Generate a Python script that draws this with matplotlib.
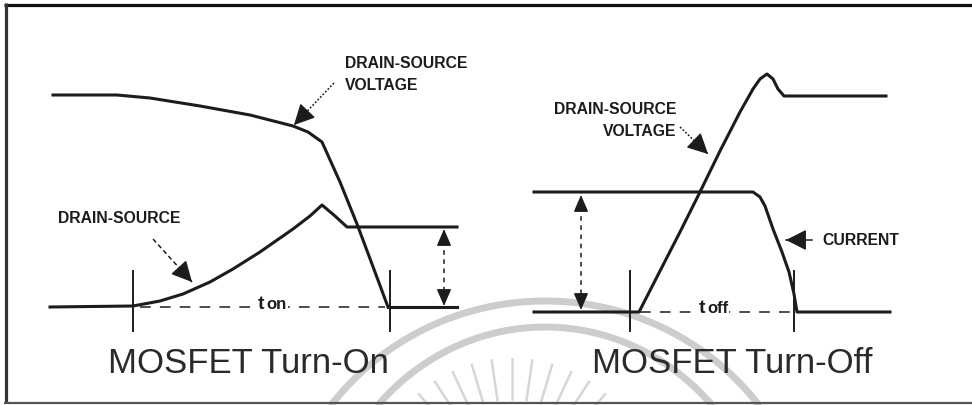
import numpy as np
import matplotlib
matplotlib.use("Agg")
import matplotlib.pyplot as plt

# ---------------- data (pixel space of the reference diagram) ----------------
# Turn-On panel
on_voltage_x = [53, 117, 150, 200, 250, 293, 308, 322, 340, 357, 372, 388]
on_voltage_y = [96, 96, 99, 107, 116, 127, 133, 143, 183, 225, 265, 308]
on_current_x = [50, 133, 160, 183, 210, 233, 260, 293, 310, 322, 335, 347, 457]
on_current_y = [308, 307, 302, 295, 283, 270, 253, 230, 217, 206, 217, 228, 228]
on_base_x = [388, 457]
on_base_y = [308, 308]
on_ticks_x = [133, 390]

# Turn-Off panel
off_voltage_x = [534, 639, 660, 680, 699, 720, 740, 753, 760, 767, 773, 778, 784, 886]
off_voltage_y = [313, 313, 272, 233, 195, 152, 113, 90, 80, 75, 80, 90, 97, 97]
off_current_x = [534, 753, 760, 765, 773, 782, 789, 794, 797, 890]
off_current_y = [193, 193, 198, 207, 230, 253, 273, 295, 313, 313]
off_ticks_x = [630, 794]

titles = ["MOSFET Turn-On", "MOSFET Turn-Off"]

INK = "#1c1c1c"
WM = "#cdcdcd"

fig = plt.figure(figsize=(9.72, 4.06), dpi=100)
ax = fig.add_axes([0, 0, 1, 1])
ax.set_xlim(0, 972)
ax.set_ylim(406, 0)
ax.axis("off")

# ---------------- watermark (faint arcs & rays) ----------------
t = np.linspace(0, np.pi, 400)
for top, half, cx in [(302, 213, 545), (328, 166, 545)]:
    d = 161.0
    ry = 405 - top + d
    rx = half / np.sqrt(1 - (d / ry) ** 2)
    xs = cx + rx * np.cos(t)
    ys = (405 + d) - ry * np.sin(t)
    ax.plot(xs, ys, color=WM, lw=5.0, solid_capstyle="butt", zorder=0)
ang = np.deg2rad(np.linspace(40, 140, 13))
rc = (512, 500)
for a in ang:
    x0, y0 = rc[0] + 100 * np.cos(a), rc[1] - 100 * np.sin(a)
    x1, y1 = rc[0] + 140 * np.cos(a), rc[1] - 140 * np.sin(a)
    ax.plot([x0, x1], [y0, y1], color="#d6d6d6", lw=1.8, zorder=0)

# ---------------- frame ----------------
ax.plot([4, 972], [5.5, 5.5], color="#111111", lw=2.3, solid_capstyle="butt")
ax.plot([5.5, 5.5], [4, 404], color="#333333", lw=2.3, solid_capstyle="butt")
ax.plot([4, 972], [404, 404], color="#555555", lw=1.6, solid_capstyle="butt")

LW = 2.2

# ---------------- Turn-On ----------------
ax.plot(on_voltage_x, on_voltage_y, color=INK, lw=LW, solid_joinstyle="round", zorder=3)
ax.plot(on_current_x, on_current_y, color=INK, lw=LW, solid_joinstyle="round", zorder=3)
ax.plot(on_base_x, on_base_y, color=INK, lw=LW, zorder=3)
for tx in on_ticks_x:
    ax.plot([tx, tx], [272, 332], color=INK, lw=1.4, zorder=3)
ax.plot([140, 385], [308, 308], color=INK, lw=1.1, ls=(0, (7, 6)), zorder=2)

# ---------------- Turn-Off ----------------
ax.plot(off_voltage_x, off_voltage_y, color=INK, lw=LW, solid_joinstyle="round", zorder=3)
ax.plot(off_current_x, off_current_y, color=INK, lw=LW, solid_joinstyle="round", zorder=3)
for tx in off_ticks_x:
    ax.plot([tx, tx], [272, 332], color=INK, lw=1.4, zorder=3)
ax.plot([640, 790], [313, 313], color=INK, lw=1.1, ls=(0, (7, 6)), zorder=2)

# ---------------- double arrows ----------------
def double_arrow(x, y0, y1):
    ax.plot([x, x], [y0 + 12, y1 - 12], color=INK, lw=1.1, ls=(0, (3, 3)), zorder=3)
    for tip, base in [((x, y0), (x, y0 + 12)), ((x, y1), (x, y1 - 12))]:
        ax.annotate("", xy=tip, xytext=base,
                    arrowprops=dict(arrowstyle="-|>,head_length=0.65,head_width=0.28",
                                    color=INK, lw=1.0, mutation_scale=16,
                                    shrinkA=0, shrinkB=0), zorder=4)

double_arrow(444, 230, 307)
double_arrow(581, 196, 311)

# ---------------- pointer arrows ----------------
def pointer(start, tip, ls=(0, (1.2, 1.2))):
    ax.plot([start[0], tip[0]], [start[1], tip[1]], color=INK, lw=1.1, ls=ls, zorder=3)
    v = np.array(tip, float) - np.array(start, float)
    v /= np.hypot(*v)
    base = np.array(tip) - v * 13
    ax.annotate("", xy=tip, xytext=tuple(base),
                arrowprops=dict(arrowstyle="-|>,head_length=0.75,head_width=0.38",
                                color=INK, lw=1.0, mutation_scale=17,
                                shrinkA=0, shrinkB=0), zorder=4)

pointer((334, 84), (294, 126))
pointer((153, 240), (192, 283), ls=(0, (3, 2)))
pointer((680, 128), (708, 155))
pointer((812, 241), (786, 241), ls="-")

# ---------------- labels ----------------
LF = dict(family=["Liberation Sans", "DejaVu Sans"], fontweight="bold",
          fontsize=11.3, color=INK, va="center")
ax.text(345, 64, "DRAIN-SOURCE", ha="left", **LF)
ax.text(345, 85, "VOLTAGE", ha="left", **LF)
ax.text(58, 219, "DRAIN-SOURCE", ha="left", **LF)
ax.text(676, 109, "DRAIN-SOURCE", ha="right", **LF)
ax.text(676, 132, "VOLTAGE", ha="right", **LF)
ax.text(822, 241, "CURRENT", ha="left", **LF)

TF = dict(family=["Liberation Sans", "DejaVu Sans"], fontweight="bold", color=INK)
BG = dict(facecolor="white", edgecolor="none", pad=1.0)
ax.text(258, 309, "t", fontsize=14, ha="left", va="baseline", bbox=BG, zorder=3, **TF)
ax.text(266, 309, "on", fontsize=12, ha="left", va="baseline", bbox=BG, zorder=3, **TF)
ax.text(699, 313, "t", fontsize=14, ha="left", va="baseline", bbox=BG, zorder=3, **TF)
ax.text(707, 313, "off", fontsize=12, ha="left", va="baseline", bbox=BG, zorder=3, **TF)

HF = dict(family=["Liberation Sans", "DejaVu Sans"], fontsize=25,
          color="#2a2a2a", ha="center", va="baseline")
ax.text(248, 373, titles[0], **HF)
ax.text(732, 373, titles[1], **HF)

fig.savefig("out.png", dpi=100, facecolor="white")
